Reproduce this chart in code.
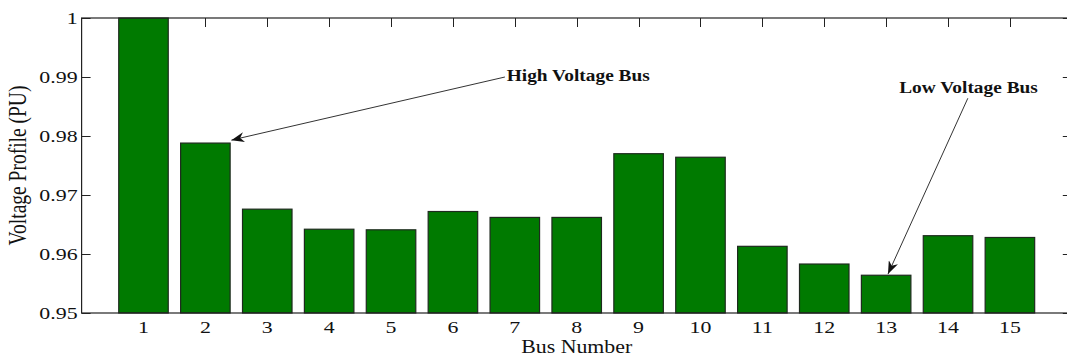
<!DOCTYPE html>
<html>
<head>
<meta charset="utf-8">
<script src="https://cdn.jsdelivr.net/npm/d3@7"></script>
<style>
  body { margin: 0; background: #fff; }
  text { font-family: 'Liberation Serif', 'Times New Roman', serif; fill: #111; }
</style>
</head>
<body>
<div id="chart"></div>
<script>
// data
const buses = [1, 2, 3, 4, 5, 6, 7, 8, 9, 10, 11, 12, 13, 14, 15]
const voltages = [1.0, 0.9788, 0.9676, 0.9642, 0.9641, 0.9672, 0.9662, 0.9662,
  0.9770, 0.9764, 0.9613, 0.9583, 0.9564, 0.9631, 0.9628]
const yTicks = [0.95, 0.96, 0.97, 0.98, 0.99, 1]

// annotations, in data units: text anchor, line start, arrow tip
const noteLabels = ['High Voltage Bus', 'Low Voltage Bus']
const noteText = [[6.87, 0.9893], [13.21, 0.9873]]
const noteFrom = [[6.84, 0.9900], [14.32, 0.9864]]
const noteTo = [[2.42, 0.9793], [13.03, 0.9566]]

const width = 1067
const height = 358
const margin = { top: 18, left: 81.6, right: -4.8, bottom: 45 }
const stretch = 1.25 // the original picture is stretched sideways

const svg = d3
  .select('#chart')
  .append('svg')
  .attr('width', width)
  .attr('height', height)

const xPositionScale = d3
  .scaleLinear()
  .domain([0, 16])
  .range([margin.left, width - margin.right])

const yPositionScale = d3
  .scaleLinear()
  .domain([0.95, 1])
  .range([height - margin.bottom, margin.top])

const x0 = xPositionScale.range()[0]
const x1 = xPositionScale.range()[1]
const y0 = yPositionScale.range()[0]
const y1 = yPositionScale.range()[1]
const tickLen = 9

// ticks (inward, all four sides)
const tickG = svg.append('g').attr('stroke', '#222').attr('stroke-width', 1)
yTicks.forEach(t => {
  const y = Math.round(yPositionScale(t)) + 0.5
  tickG.append('line').attr('x1', x0).attr('x2', x0 + tickLen).attr('y1', y).attr('y2', y)
  tickG.append('line').attr('x1', x1).attr('x2', x1 - tickLen).attr('y1', y).attr('y2', y)
})
buses.forEach(b => {
  const x = Math.round(xPositionScale(b)) + 0.5
  tickG.append('line').attr('x1', x).attr('x2', x).attr('y1', y1).attr('y2', y1 + tickLen)
  tickG.append('line').attr('x1', x).attr('x2', x).attr('y1', y0).attr('y2', y0 - tickLen)
})

// bars
const barWidth = 0.8
svg
  .selectAll('.bar')
  .data(buses)
  .enter()
  .append('rect')
  .attr('class', 'bar')
  .attr('x', (d, i) => xPositionScale(d - barWidth / 2))
  .attr('width', xPositionScale(barWidth) - xPositionScale(0))
  .attr('y', (d, i) => yPositionScale(voltages[i]))
  .attr('height', (d, i) => y0 - yPositionScale(voltages[i]))
  .attr('fill', '#007a00')
  .attr('stroke', '#1e2a1e')
  .attr('stroke-width', 1.2)

// axes box
svg
  .append('rect')
  .attr('x', x0)
  .attr('y', y1)
  .attr('width', x1 - x0)
  .attr('height', y0 - y1)
  .attr('fill', 'none')
  .attr('stroke', '#222')
  .attr('stroke-width', 1.2)

// tick labels
svg
  .selectAll('.ylab')
  .data(yTicks)
  .enter()
  .append('text')
  .attr('class', 'ylab')
  .attr('transform', d => `translate(${x0 - 4},${yPositionScale(d) + 6}) scale(${stretch},1)`)
  .attr('text-anchor', 'end')
  .style('font-size', '17.5px')
  .text(d => (d === 1 ? '1' : d3.format('.2f')(d)))

svg
  .selectAll('.xlab')
  .data(buses)
  .enter()
  .append('text')
  .attr('class', 'xlab')
  .attr('transform', d => `translate(${xPositionScale(d)},${y0 + 20}) scale(${stretch},1)`)
  .attr('text-anchor', 'middle')
  .style('font-size', '17.5px')
  .text(d => d)

// axis titles
svg
  .append('text')
  .attr('transform', `translate(${(x0 + x1) / 2},${y0 + 40}) scale(1.12,1)`)
  .attr('text-anchor', 'middle')
  .style('font-size', '19.5px')
  .text('Bus Number')

svg
  .append('text')
  .attr('transform', `translate(26,${(y0 + y1) / 2}) scale(${stretch},1) rotate(-90)`)
  .attr('text-anchor', 'middle')
  .style('font-size', '19.5px')
  .text('Voltage Profile (PU)')

// annotations
svg
  .append('defs')
  .append('marker')
  .attr('id', 'arrow')
  .attr('viewBox', '0 0 13 10')
  .attr('refX', 13)
  .attr('refY', 5)
  .attr('markerWidth', 13)
  .attr('markerHeight', 10)
  .attr('markerUnits', 'userSpaceOnUse')
  .attr('orient', 'auto')
  .append('path')
  .attr('d', 'M0,0 L13,5 L0,10 L4,5 Z')
  .attr('fill', '#111')

noteLabels.forEach((label, i) => {
  svg
    .append('line')
    .attr('x1', xPositionScale(noteFrom[i][0]))
    .attr('y1', yPositionScale(noteFrom[i][1]))
    .attr('x2', xPositionScale(noteTo[i][0]))
    .attr('y2', yPositionScale(noteTo[i][1]))
    .attr('stroke', '#333')
    .attr('stroke-width', 1)
    .attr('marker-end', 'url(#arrow)')

  svg
    .append('text')
    .attr('transform', `translate(${xPositionScale(noteText[i][0])},${yPositionScale(noteText[i][1])}) scale(1.21,1)`)
    .style('font-size', '16px')
    .style('font-weight', 'bold')
    .text(label)
})
</script>
</body>
</html>
